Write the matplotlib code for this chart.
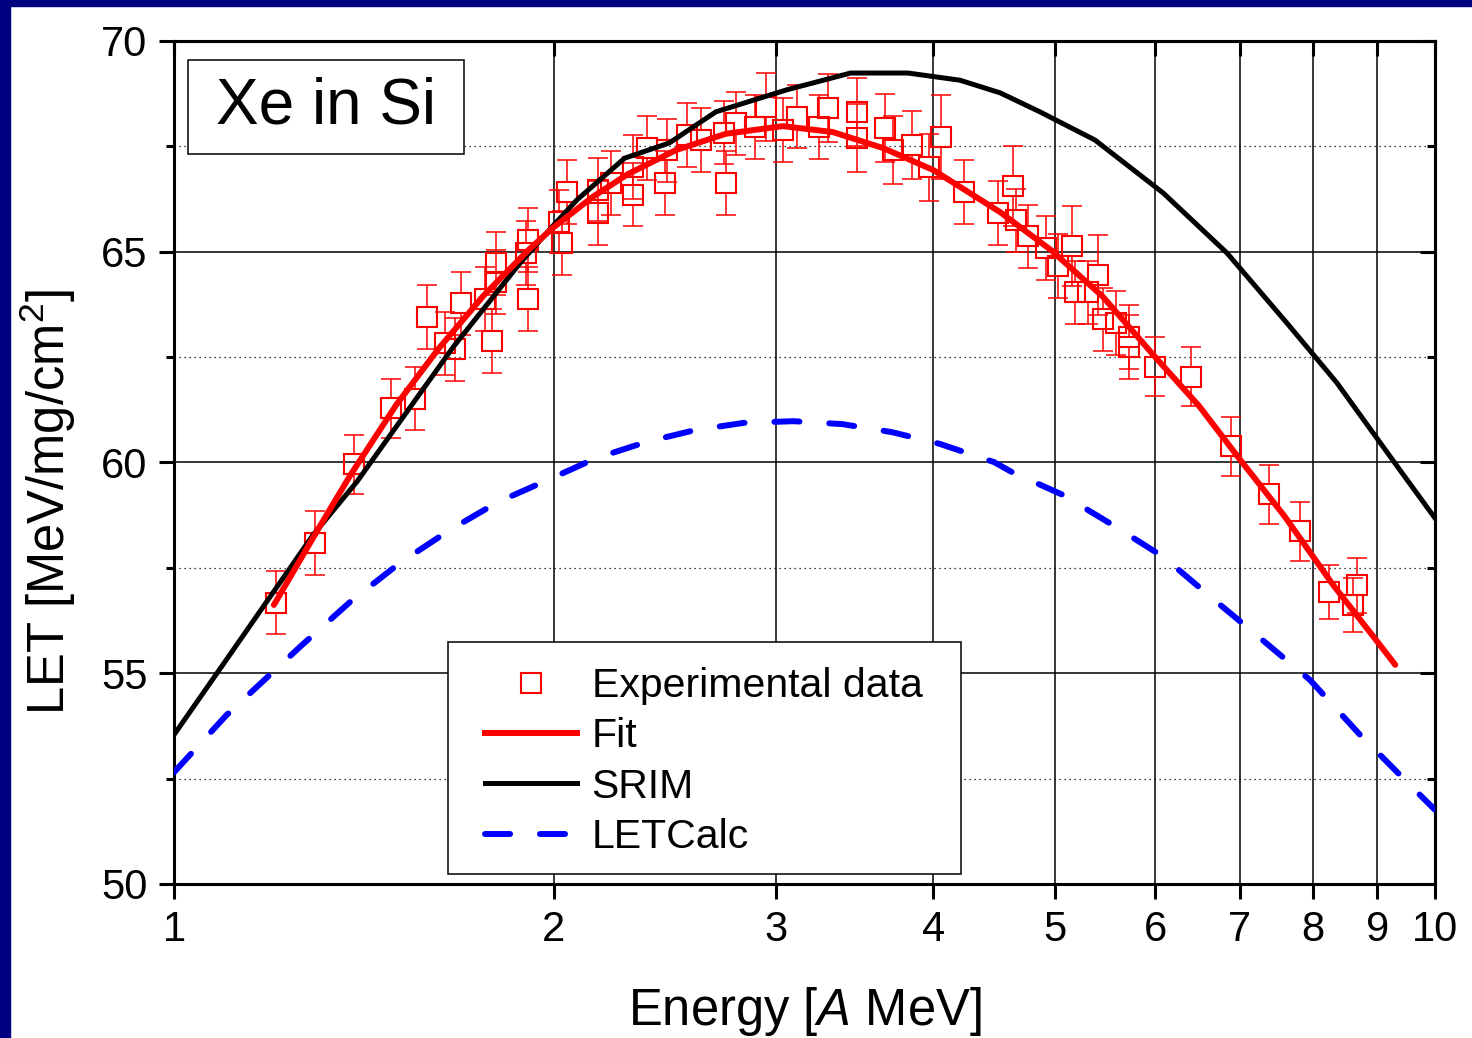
import numpy as np
import matplotlib
matplotlib.use("Agg")
import matplotlib.pyplot as plt
from matplotlib.lines import Line2D
from matplotlib.patches import Rectangle
from matplotlib.ticker import FixedLocator, FormatStrFormatter, NullLocator

plt.rcParams['font.family'] = ['Liberation Sans', 'DejaVu Sans']
plt.rcParams['mathtext.fontset'] = 'custom'
plt.rcParams['mathtext.rm'] = 'Liberation Sans'
plt.rcParams['mathtext.it'] = 'Liberation Sans:italic'

# experimental data: energy [A MeV], LET, error
exp_E = [1.205, 1.294, 1.39, 1.487, 1.553, 1.588, 1.64, 1.67, 1.69, 1.765,
         1.787, 1.80, 1.80, 1.91, 1.90, 1.91, 2.03, 2.05, 2.02, 2.17,
         2.17, 2.22, 2.31, 2.31, 2.37, 2.45, 2.46, 2.55, 2.62, 2.73,
         2.74, 2.79, 2.89, 2.95, 3.04, 3.12, 3.25, 3.30, 3.48, 3.48,
         3.66, 3.72, 3.85, 3.97, 4.06, 4.23, 4.50, 4.63, 4.65, 4.756,
         4.914, 5.02, 5.15, 5.18, 5.40, 5.31, 5.45, 5.58, 5.72, 5.72,
         6.00, 6.41, 6.89, 7.39, 7.81, 8.24, 8.61, 8.67]
exp_LET = [56.67, 58.09, 59.96, 61.29, 61.51, 63.45, 62.83, 62.69, 63.78, 63.88,
           62.88, 64.28, 64.73, 63.88, 64.97, 65.28, 65.21, 66.42, 65.71, 65.92,
           66.47, 66.63, 66.35, 67.01, 67.46, 66.63, 67.41, 67.77, 67.65, 67.82,
           66.63, 68.05, 67.96, 68.43, 67.89, 68.20, 67.96, 68.41, 68.32, 67.70,
           67.94, 67.41, 67.53, 67.00, 67.72, 66.42, 65.92, 66.56, 65.75, 65.37,
           65.09, 64.66, 65.14, 64.04, 64.45, 64.04, 63.40, 63.31, 62.98, 62.74,
           62.27, 62.03, 60.39, 59.25, 58.37, 56.93, 56.62, 57.09]
exp_err = [0.75, 0.75, 0.7, 0.7, 0.75, 0.75, 0.75, 0.75, 0.75, 0.75,
           0.75, 0.75, 0.75, 0.75, 0.75, 0.75, 0.75, 0.75, 0.75, 0.75,
           0.75, 0.75, 0.75, 0.75, 0.75, 0.75, 0.75, 0.75, 0.75, 0.75,
           0.75, 0.75, 0.75, 0.8, 0.75, 0.75, 0.75, 0.8, 0.8, 0.8,
           0.8, 0.8, 0.8, 0.8, 1.0, 0.75, 0.75, 0.95, 0.75, 0.75,
           0.75, 0.75, 0.95, 0.75, 0.95, 0.75, 0.75, 0.75, 0.75, 0.75,
           0.7, 0.7, 0.7, 0.7, 0.7, 0.65, 0.65, 0.65]

fit_E = [1.20, 1.30, 1.38, 1.5, 1.62, 1.76, 1.91, 2.0, 2.15, 2.29, 2.5, 2.74,
         3.04, 3.33, 3.65, 4.0, 4.52, 4.96, 5.45, 6.0, 6.5, 7.0, 7.6, 8.3, 9.0, 9.3]
fit_LET = [56.62, 58.40, 59.70, 61.36, 62.69, 63.96, 65.04, 65.58, 66.31, 66.84, 67.41, 67.80,
           67.98, 67.84, 67.46, 66.94, 65.94, 65.04, 63.94, 62.50, 61.34, 60.08, 58.72, 57.10,
           55.75, 55.20]

srim_E = [1.0, 1.108, 1.289, 1.397, 1.665, 1.881, 2.0, 2.087, 2.277, 2.47, 2.69, 3.06,
          3.44, 3.82, 4.20, 4.52, 4.86, 5.375, 6.09, 6.84, 7.63, 8.36, 9.38, 10.0]
srim_LET = [53.54, 55.45, 58.28, 59.55, 62.74, 64.73, 65.63, 66.23, 67.22, 67.58, 68.32, 68.84,
            69.24, 69.24, 69.07, 68.77, 68.32, 67.65, 66.39, 64.97, 63.31, 61.89, 59.82, 58.68]

letcalc_E = [1.0, 1.1, 1.258, 1.379, 1.511, 1.655, 1.806, 1.977, 2.16, 2.37, 2.59, 2.83,
             3.1, 3.39, 3.71, 4.05, 4.47, 4.62, 5.07, 5.55, 6.09, 6.64, 7.25, 7.96,
             8.72, 9.0, 9.5, 10.0]
letcalc_LET = [52.65, 54.0, 55.62, 56.69, 57.62, 58.40, 59.06, 59.58, 60.1, 60.49, 60.77, 60.94,
               60.98, 60.91, 60.72, 60.44, 60.01, 59.77, 59.23, 58.52, 57.76, 56.81, 55.86, 54.84,
               53.54, 53.13, 52.42, 51.76]

x_ticks = [1, 2, 3, 4, 5, 6, 7, 8, 9, 10]
y_ticks = [50, 55, 60, 65, 70]
y_minor = [52.5, 57.5, 62.5, 67.5]

fig = plt.figure(figsize=(14.72, 10.38), dpi=100)
# dark blue slide border
fig.patches.append(Rectangle((0, 0), 10 / 1472, 1, transform=fig.transFigure,
                             color='#000080', zorder=0))
fig.patches.append(Rectangle((0, 1 - 6 / 1038), 1, 6 / 1038, transform=fig.transFigure,
                             color='#000080', zorder=0))

ax = fig.add_axes([174 / 1472, 1 - 884 / 1038, (1435 - 174) / 1472, (884 - 41) / 1038])
ax.set_xscale('log')
ax.set_xlim(1, 10)
ax.set_ylim(50, 70)

ax.xaxis.set_major_locator(FixedLocator(x_ticks))
ax.xaxis.set_major_formatter(FormatStrFormatter('%d'))
ax.xaxis.set_minor_locator(NullLocator())
ax.yaxis.set_major_locator(FixedLocator(y_ticks))
ax.yaxis.set_minor_locator(FixedLocator(y_minor))

ax.grid(which='major', color='k', lw=1.1)
ax.grid(which='minor', axis='y', color='k', lw=0.9, ls=(0, (1, 3)))

ax.tick_params(which='major', direction='out', length=11, width=2.2, labelsize=30, pad=8)
ax.tick_params(which='minor', direction='out', length=6, width=2.2)
for s in ax.spines.values():
    s.set_linewidth(2.2)

top = ax.secondary_xaxis('top')
top.xaxis.set_major_locator(FixedLocator(x_ticks))
top.xaxis.set_minor_locator(NullLocator())
top.tick_params(direction='in', length=11, width=2.2, labeltop=False)
top.spines['top'].set_linewidth(2.2)
right = ax.secondary_yaxis('right')
right.yaxis.set_major_locator(FixedLocator(y_ticks))
right.yaxis.set_minor_locator(FixedLocator(y_minor))
right.tick_params(which='major', direction='in', length=11, width=2.2, labelright=False)
right.tick_params(which='minor', direction='in', length=6, width=2.2, labelright=False)
right.spines['right'].set_linewidth(2.2)

# experimental points: error bars start at the square edge
E = np.array(exp_E)
L = np.array(exp_LET)
err = np.array(exp_err)
half = 0.25
ax.vlines(E, L + half, L + err, color='red', lw=1.1, zorder=2)
ax.vlines(E, L - err, L - half, color='red', lw=1.1, zorder=2)
ax.plot(E, L + err, ls='none', marker='_', ms=14, mew=1.1, color='red', zorder=2)
ax.plot(E, L - err, ls='none', marker='_', ms=14, mew=1.1, color='red', zorder=2)
ax.plot(E, L, ls='none', marker='s', ms=15, mfc='none', mec='red', mew=1.5, zorder=2)

ax.plot(srim_E, srim_LET, color='black', lw=3.6, zorder=3)
ax.plot(letcalc_E, letcalc_LET, color='blue', lw=4.3, dashes=(4.2, 5.0),
        dash_capstyle='round', zorder=3)
ax.plot(fit_E, fit_LET, color='red', lw=4.3, solid_capstyle='round',
        solid_joinstyle='round', zorder=4)

ax.set_xlabel('Energy [$\\it{A}$ MeV]', fontsize=36.5)
ax.xaxis.set_label_coords(0.5, -0.12)
ax.set_ylabel('LET [MeV/mg/cm$^2$]', fontsize=36.5)
ax.yaxis.set_label_coords(-0.076, 0.453)

# "Xe in Si" box
ax.add_patch(Rectangle((14 / 1261, (884 - 154) / 843), 276 / 1261, 94 / 843,
                       transform=ax.transAxes, facecolor='white', edgecolor='black',
                       lw=1.1, zorder=5))
ax.text((326 - 174) / 1261, (884 - 107) / 843, 'Xe in Si',
        transform=ax.transAxes, fontsize=46, ha='center', va='center', zorder=6)

# legend with its own frame
ax.add_patch(Rectangle(((448 - 174) / 1261, (884 - 874) / 843), (961 - 448) / 1261,
                       (874 - 642) / 843, transform=ax.transAxes, facecolor='white',
                       edgecolor='black', lw=1.1, zorder=5))
handles = [
    Line2D([], [], ls='none', marker='s', ms=15, mfc='none', mec='red', mew=1.5),
    Line2D([], [], color='red', lw=4.3),
    Line2D([], [], color='black', lw=3.6),
    Line2D([], [], color='blue', lw=4.3, dashes=(4.2, 5.0), dash_capstyle='round'),
]
leg = ax.legend(handles, ['Experimental data', 'Fit', 'SRIM', 'LETCalc'],
                loc='upper left', bbox_to_anchor=((485 - 174) / 1261, (884 - 667) / 843),
                frameon=False, fontsize=29.5, handlelength=2.25, handletextpad=0.35,
                labelspacing=0.3, borderpad=0, borderaxespad=0, numpoints=1)
leg.set_zorder(6)

fig.savefig('out.png', dpi=100)
